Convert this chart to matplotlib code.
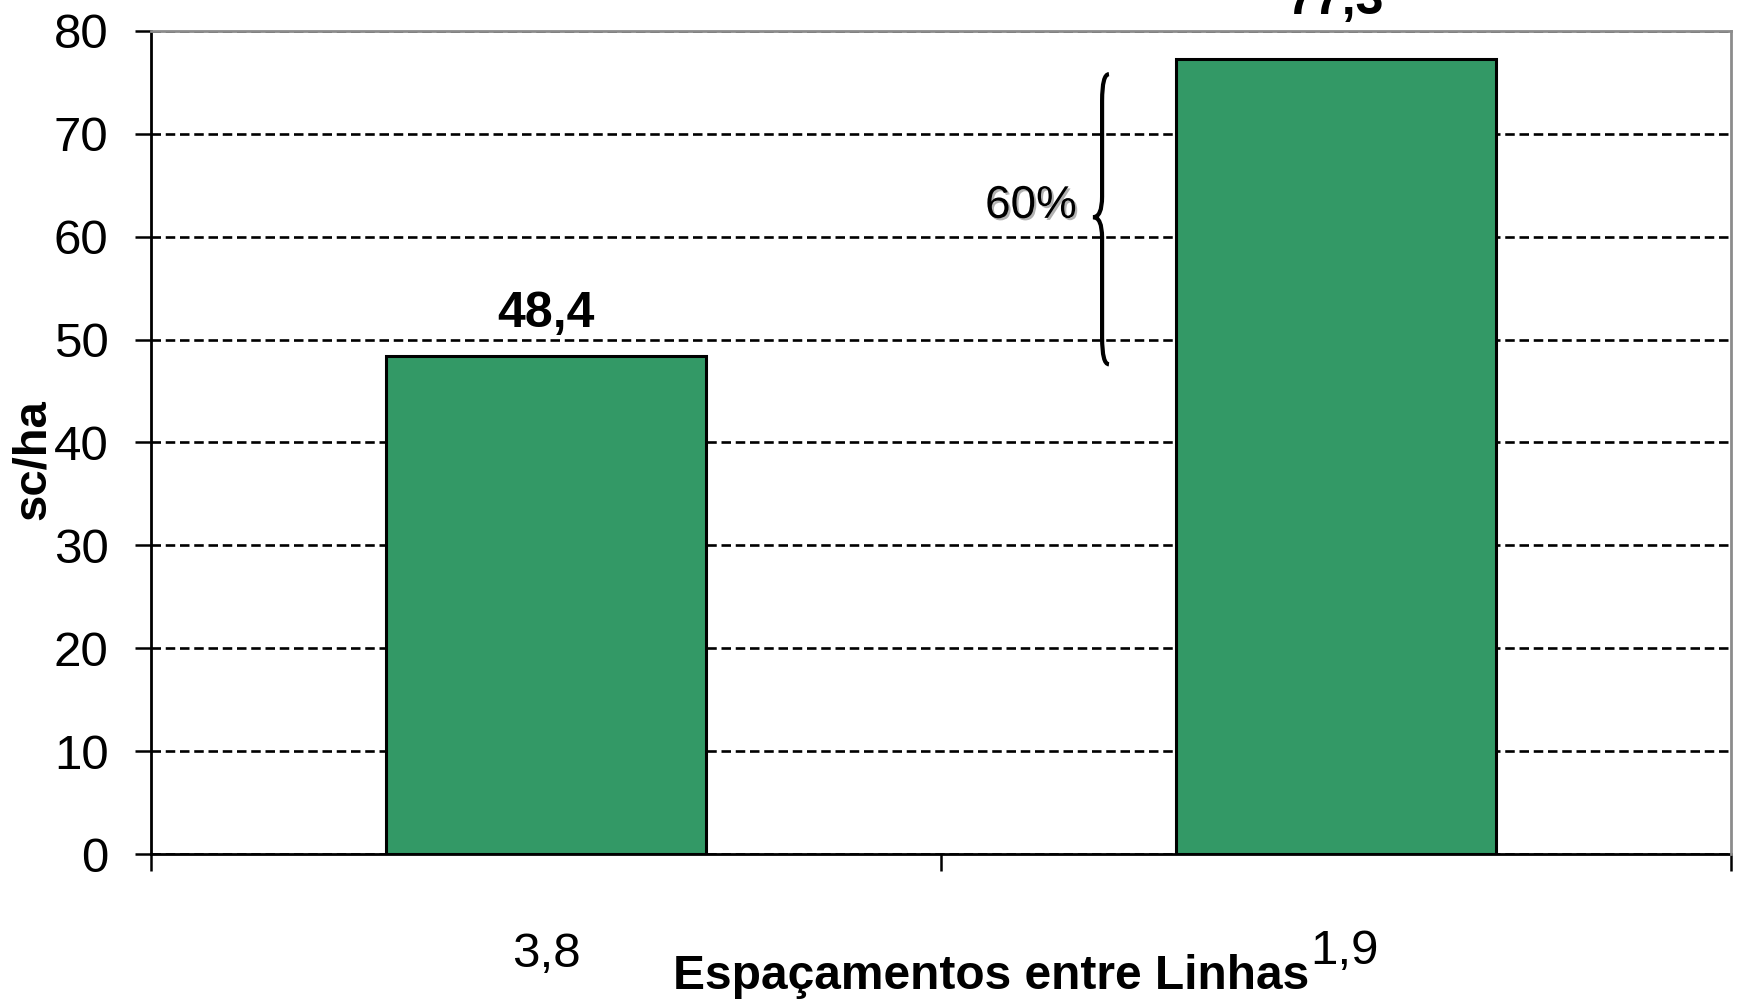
import numpy as np
import matplotlib.pyplot as plt
import matplotlib.patheffects as pe
import matplotlib.transforms as mtransforms
from matplotlib.path import Path
from matplotlib.patches import PathPatch

plt.rcParams['font.family'] = ['Liberation Sans', 'DejaVu Sans']

# data
categories = ['3,8', '1,9']
values = [48.4, 77.3]
value_labels = ['48,4', '77,3']
yticks = [0, 10, 20, 30, 40, 50, 60, 70, 80]
pct_label = '60%'
brace_lo, brace_mid, brace_hi = 47.6, 61.9, 75.8

fig = plt.figure(figsize=(17.37, 10.02), dpi=100)
ax = fig.add_axes([0.0869, 0.1477, 0.9096, 0.8214])

x = np.arange(len(categories))
bars = ax.bar(x, values, width=0.405, color='#339966', edgecolor='black',
              linewidth=2.2, zorder=2)

ax.set_xlim(-0.5, 1.5)
ax.set_ylim(0, 80)
ax.set_yticks(yticks)
ax.set_yticklabels([str(v) for v in yticks], fontsize=35.5)
ax.tick_params(axis='y', direction='out', length=11.5, width=1.8, pad=19)

# category labels at centres, tick marks at boundaries
ax.set_xticks(x)
ax.set_xticklabels(categories, fontsize=35.5)
ax.tick_params(axis='x', which='major', length=0, pad=56)
ax.set_xticks([-0.5, 0.5, 1.5], minor=True)
ax.tick_params(axis='x', which='minor', direction='out', length=12, width=1.8)

# second category label sits a bit right and higher in the original
lab = ax.get_xticklabels()[1]
lab.set_transform(lab.get_transform() +
                  mtransforms.ScaledTranslation(6 / 72, 2 / 72, fig.dpi_scale_trans))

ax.set_axisbelow(True)
ax.yaxis.grid(True, color='black', linewidth=1.9, linestyle=(0, (3.6, 1.8)))

for s in ['left', 'bottom']:
    ax.spines[s].set_linewidth(2)
    ax.spines[s].set_color('black')
for s in ['top', 'right']:
    ax.spines[s].set_linewidth(2)
    ax.spines[s].set_color('#8c8c8c')
    ax.spines[s].set_zorder(3)

# value labels
offsets = [21, 32]
for b, lab, off in zip(bars, value_labels, offsets):
    ax.annotate(lab, (b.get_x() + b.get_width() / 2, b.get_height()),
                xytext=(0, off), textcoords='offset points', ha='center',
                va='baseline', fontsize=36, fontweight='bold',
                annotation_clip=False)

# brace
xs, xe, xt = 0.704, 0.7127, 0.6925
h, ht = 2.6, 2.0
verts = [(xe, brace_hi), (xs, brace_hi), (xs, brace_hi - h),
         (xs, brace_mid + ht), (xs, brace_mid), (xt, brace_mid),
         (xs, brace_mid), (xs, brace_mid - ht),
         (xs, brace_lo + h), (xs, brace_lo), (xe, brace_lo)]
codes = [Path.MOVETO, Path.CURVE3, Path.CURVE3,
         Path.LINETO, Path.CURVE3, Path.CURVE3,
         Path.CURVE3, Path.CURVE3,
         Path.LINETO, Path.CURVE3, Path.CURVE3]
ax.add_patch(PathPatch(Path(verts, codes), facecolor='none',
                       edgecolor='black', linewidth=3, zorder=4))

ax.text(0.672, 63.0, pct_label, ha='right', va='center', fontsize=33,
        path_effects=[pe.SimplePatchShadow(offset=(1.5, -1.5), alpha=0.3),
                      pe.Normal()])

ax.set_xlabel('Espaçamentos entre Linhas', fontsize=34.5, fontweight='bold',
              va='center')
ax.xaxis.set_label_coords(0.532, -0.149)
fig.text(33 / 1737, 1 - 460 / 1002, 'sc/ha', rotation=90, ha='center',
         va='center', fontsize=34, fontweight='bold')

fig.savefig('out.png', dpi=100)
